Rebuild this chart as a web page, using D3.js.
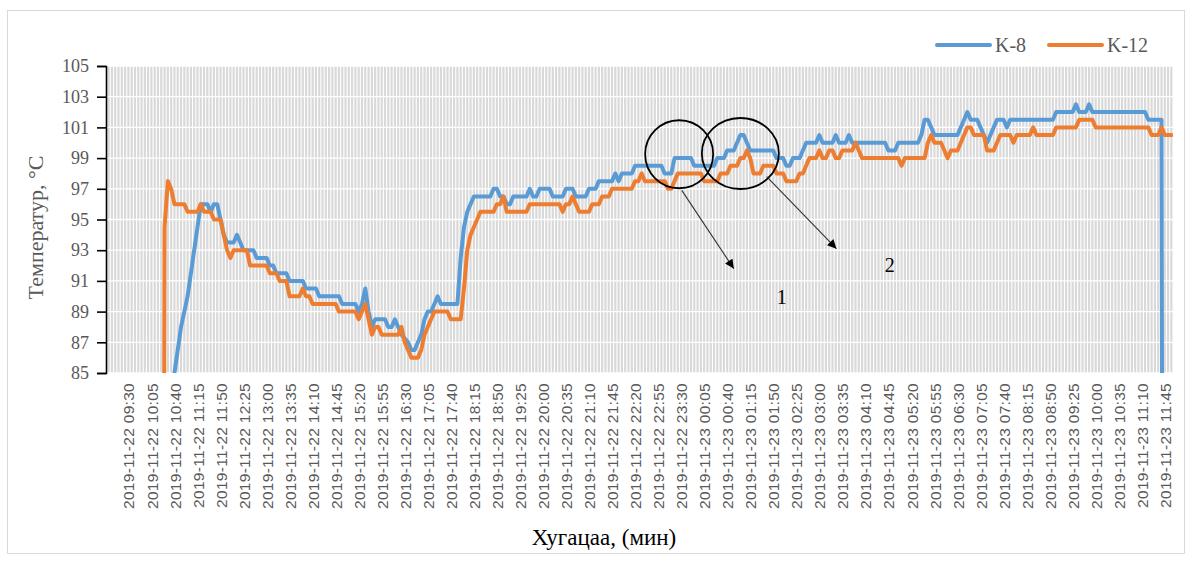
<!DOCTYPE html>
<html>
<head>
<meta charset="utf-8">
<script src="https://cdn.jsdelivr.net/npm/d3@7"></script>
<style>
  body { margin: 0; background: #ffffff; }
  svg { display: block; }
</style>
</head>
<body>
<svg id="chart" width="1192" height="563"></svg>
<script>
// ---------------- DATA ----------------
const seriesNames = ["K-8", "K-12"];

// K-8 readings (time, °C); values below 85 are off-scale (sensor not yet / no longer recording)
const k8 = [
  ["2019-11-22 10:35",0],["2019-11-22 10:40",85],["2019-11-22 10:45",86.5],["2019-11-22 10:50",88],["2019-11-22 10:55",89],
  ["2019-11-22 11:00",90],["2019-11-22 11:05",91.5],["2019-11-22 11:10",93],["2019-11-22 11:15",94.5],["2019-11-22 11:20",96],
  ["2019-11-22 11:30",96],["2019-11-22 11:35",95.5],["2019-11-22 11:40",96],["2019-11-22 11:45",96],["2019-11-22 11:50",95],
  ["2019-11-22 11:55",94],["2019-11-22 12:00",93.5],["2019-11-22 12:10",93.5],["2019-11-22 12:15",94],["2019-11-22 12:20",93.5],
  ["2019-11-22 12:25",93],["2019-11-22 12:40",93],["2019-11-22 12:45",92.5],["2019-11-22 13:00",92.5],["2019-11-22 13:05",92],
  ["2019-11-22 13:10",92],["2019-11-22 13:15",91.5],["2019-11-22 13:30",91.5],["2019-11-22 13:35",91],["2019-11-22 13:55",91],
  ["2019-11-22 14:00",90.5],["2019-11-22 14:15",90.5],["2019-11-22 14:20",90],["2019-11-22 14:50",90],["2019-11-22 14:55",89.5],
  ["2019-11-22 15:15",89.5],["2019-11-22 15:20",89],["2019-11-22 15:25",89.5],["2019-11-22 15:30",90.5],["2019-11-22 15:35",89],
  ["2019-11-22 15:40",88],["2019-11-22 15:45",88.5],["2019-11-22 16:00",88.5],["2019-11-22 16:05",88],["2019-11-22 16:10",88],
  ["2019-11-22 16:15",88.5],["2019-11-22 16:20",88],["2019-11-22 16:25",87.5],["2019-11-22 16:35",87],["2019-11-22 16:40",86.5],
  ["2019-11-22 16:45",86.5],["2019-11-22 16:50",87],["2019-11-22 16:55",87.5],["2019-11-22 17:00",88.5],["2019-11-22 17:05",89],
  ["2019-11-22 17:10",89],["2019-11-22 17:15",89.5],["2019-11-22 17:20",90],["2019-11-22 17:25",89.5],["2019-11-22 17:50",89.5],
  ["2019-11-22 17:55",92.5],["2019-11-22 18:00",94.5],["2019-11-22 18:05",95.5],["2019-11-22 18:10",96],["2019-11-22 18:15",96.5],
  ["2019-11-22 18:40",96.5],["2019-11-22 18:45",97],["2019-11-22 18:50",97],["2019-11-22 18:55",96.5],["2019-11-22 19:00",96.5],
  ["2019-11-22 19:05",96],["2019-11-22 19:10",96],["2019-11-22 19:15",96.5],["2019-11-22 19:35",96.5],["2019-11-22 19:40",97],
  ["2019-11-22 19:45",96.5],["2019-11-22 19:50",96.5],["2019-11-22 19:55",97],["2019-11-22 20:10",97],["2019-11-22 20:15",96.5],
  ["2019-11-22 20:30",96.5],["2019-11-22 20:35",97],["2019-11-22 20:45",97],["2019-11-22 20:50",96.5],["2019-11-22 21:05",96.5],
  ["2019-11-22 21:10",97],["2019-11-22 21:20",97],["2019-11-22 21:25",97.5],["2019-11-22 21:45",97.5],["2019-11-22 21:50",98],
  ["2019-11-22 21:55",97.5],["2019-11-22 22:00",98],["2019-11-22 22:15",98],["2019-11-22 22:20",98.5],["2019-11-22 23:00",98.5],
  ["2019-11-22 23:05",98],["2019-11-22 23:15",98],["2019-11-22 23:20",99],["2019-11-22 23:45",99],["2019-11-22 23:50",98.5],
  ["2019-11-23 00:20",98.5],["2019-11-23 00:25",99],["2019-11-23 00:35",99],["2019-11-23 00:40",99.5],["2019-11-23 00:50",99.5],
  ["2019-11-23 00:55",100],["2019-11-23 01:00",100.5],["2019-11-23 01:05",100.5],["2019-11-23 01:10",100],["2019-11-23 01:15",99.5],
  ["2019-11-23 01:50",99.5],["2019-11-23 01:55",99],["2019-11-23 02:05",99],["2019-11-23 02:10",98.5],["2019-11-23 02:15",98.5],
  ["2019-11-23 02:20",99],["2019-11-23 02:30",99],["2019-11-23 02:35",99.5],["2019-11-23 02:40",100],["2019-11-23 02:55",100],
  ["2019-11-23 03:00",100.5],["2019-11-23 03:05",100],["2019-11-23 03:20",100],["2019-11-23 03:25",100.5],["2019-11-23 03:30",100],
  ["2019-11-23 03:40",100],["2019-11-23 03:45",100.5],["2019-11-23 03:50",100],["2019-11-23 04:40",100],["2019-11-23 04:45",99.5],
  ["2019-11-23 04:55",99.5],["2019-11-23 05:00",100],["2019-11-23 05:30",100],["2019-11-23 05:35",100.5],["2019-11-23 05:40",101.5],
  ["2019-11-23 05:45",101.5],["2019-11-23 05:50",101],["2019-11-23 05:55",100.5],["2019-11-23 06:30",100.5],["2019-11-23 06:35",101],
  ["2019-11-23 06:40",101.5],["2019-11-23 06:45",102],["2019-11-23 06:50",101.5],["2019-11-23 07:00",101.5],["2019-11-23 07:05",101],
  ["2019-11-23 07:10",100.5],["2019-11-23 07:15",100],["2019-11-23 07:20",100.5],["2019-11-23 07:25",101],["2019-11-23 07:30",101.5],
  ["2019-11-23 07:40",101.5],["2019-11-23 07:45",101],["2019-11-23 07:50",101.5],["2019-11-23 08:55",101.5],["2019-11-23 09:00",102],
  ["2019-11-23 09:25",102],["2019-11-23 09:30",102.5],["2019-11-23 09:35",102],["2019-11-23 09:45",102],["2019-11-23 09:50",102.5],
  ["2019-11-23 09:55",102],["2019-11-23 11:15",102],["2019-11-23 11:20",101.5],["2019-11-23 11:40",101.5],["2019-11-23 11:45",0],
  ["2019-11-23 11:55",0]
];

// K-12 readings (time, °C)
const k12 = [
  ["2019-11-22 10:20",0],["2019-11-22 10:25",94.5],["2019-11-22 10:30",97.5],["2019-11-22 10:35",97],["2019-11-22 10:40",96],
  ["2019-11-22 10:55",96],["2019-11-22 11:00",95.5],["2019-11-22 11:15",95.5],["2019-11-22 11:20",96],["2019-11-22 11:25",95.5],
  ["2019-11-22 11:35",95.5],["2019-11-22 11:40",95],["2019-11-22 11:50",95],["2019-11-22 11:55",94],["2019-11-22 12:00",93],
  ["2019-11-22 12:05",92.5],["2019-11-22 12:10",93],["2019-11-22 12:30",93],["2019-11-22 12:35",92],["2019-11-22 13:00",92],
  ["2019-11-22 13:05",91.5],["2019-11-22 13:15",91.5],["2019-11-22 13:20",91],["2019-11-22 13:30",91],["2019-11-22 13:35",90],
  ["2019-11-22 13:50",90],["2019-11-22 13:55",90.5],["2019-11-22 14:00",90],["2019-11-22 14:05",90],["2019-11-22 14:10",89.5],
  ["2019-11-22 14:45",89.5],["2019-11-22 14:50",89],["2019-11-22 15:15",89],["2019-11-22 15:20",88.5],["2019-11-22 15:25",89],
  ["2019-11-22 15:30",89.5],["2019-11-22 15:35",88.5],["2019-11-22 15:40",87.5],["2019-11-22 15:45",88],["2019-11-22 15:50",88],
  ["2019-11-22 15:55",87.5],["2019-11-22 16:20",87.5],["2019-11-22 16:25",88],["2019-11-22 16:30",87],["2019-11-22 16:35",86.5],
  ["2019-11-22 16:40",86],["2019-11-22 16:50",86],["2019-11-22 16:55",86.5],["2019-11-22 17:00",87.5],["2019-11-22 17:05",88],
  ["2019-11-22 17:10",88.5],["2019-11-22 17:15",89],["2019-11-22 17:35",89],["2019-11-22 17:40",88.5],["2019-11-22 17:55",88.5],
  ["2019-11-22 18:00",90.5],["2019-11-22 18:05",93],["2019-11-22 18:10",94],["2019-11-22 18:15",94.5],["2019-11-22 18:20",95],
  ["2019-11-22 18:25",95.5],["2019-11-22 18:45",95.5],["2019-11-22 18:50",96],["2019-11-22 18:55",96],["2019-11-22 19:00",96.5],
  ["2019-11-22 19:05",95.5],["2019-11-22 19:35",95.5],["2019-11-22 19:40",96],["2019-11-22 20:25",96],["2019-11-22 20:30",95.5],
  ["2019-11-22 20:35",96],["2019-11-22 20:40",96],["2019-11-22 20:45",96.5],["2019-11-22 20:50",96],["2019-11-22 20:55",95.5],
  ["2019-11-22 21:10",95.5],["2019-11-22 21:15",96],["2019-11-22 21:25",96],["2019-11-22 21:30",96.5],["2019-11-22 21:40",96.5],
  ["2019-11-22 21:45",97],["2019-11-22 22:15",97],["2019-11-22 22:20",97.5],["2019-11-22 22:25",97.5],["2019-11-22 22:30",98],
  ["2019-11-22 22:35",97.5],["2019-11-22 23:05",97.5],["2019-11-22 23:10",97],["2019-11-22 23:15",97],["2019-11-22 23:20",97.5],
  ["2019-11-22 23:25",98],["2019-11-23 00:00",98],["2019-11-23 00:05",97.5],["2019-11-23 00:25",97.5],["2019-11-23 00:30",98],
  ["2019-11-23 00:40",98],["2019-11-23 00:45",98.5],["2019-11-23 00:55",98.5],["2019-11-23 01:00",99],["2019-11-23 01:05",99],
  ["2019-11-23 01:10",99.5],["2019-11-23 01:15",99],["2019-11-23 01:20",98],["2019-11-23 01:30",98],["2019-11-23 01:35",98.5],
  ["2019-11-23 01:50",98.5],["2019-11-23 01:55",98],["2019-11-23 02:05",98],["2019-11-23 02:10",97.5],["2019-11-23 02:25",97.5],
  ["2019-11-23 02:30",98],["2019-11-23 02:35",98],["2019-11-23 02:40",98.5],["2019-11-23 02:45",99],["2019-11-23 02:55",99],
  ["2019-11-23 03:00",99.5],["2019-11-23 03:05",99],["2019-11-23 03:10",99],["2019-11-23 03:15",99.5],["2019-11-23 03:20",99.5],
  ["2019-11-23 03:25",99],["2019-11-23 03:30",99],["2019-11-23 03:35",99.5],["2019-11-23 03:50",99.5],["2019-11-23 03:55",100],
  ["2019-11-23 04:00",99.5],["2019-11-23 04:05",99],["2019-11-23 05:00",99],["2019-11-23 05:05",98.5],["2019-11-23 05:10",99],
  ["2019-11-23 05:40",99],["2019-11-23 05:45",100],["2019-11-23 05:50",100.5],["2019-11-23 05:55",100],["2019-11-23 06:05",100],
  ["2019-11-23 06:10",99.5],["2019-11-23 06:15",99],["2019-11-23 06:20",99.5],["2019-11-23 06:30",99.5],["2019-11-23 06:35",100],
  ["2019-11-23 06:40",100.5],["2019-11-23 06:45",101],["2019-11-23 06:50",101],["2019-11-23 06:55",100.5],["2019-11-23 07:10",100.5],
  ["2019-11-23 07:15",99.5],["2019-11-23 07:25",99.5],["2019-11-23 07:30",100],["2019-11-23 07:35",100.5],["2019-11-23 07:50",100.5],
  ["2019-11-23 07:55",100],["2019-11-23 08:00",100.5],["2019-11-23 08:20",100.5],["2019-11-23 08:25",101],["2019-11-23 08:30",100.5],
  ["2019-11-23 08:55",100.5],["2019-11-23 09:00",101],["2019-11-23 09:30",101],["2019-11-23 09:35",101.5],["2019-11-23 09:55",101.5],
  ["2019-11-23 10:00",101],["2019-11-23 11:20",101],["2019-11-23 11:25",100.5],["2019-11-23 11:35",100.5],["2019-11-23 11:40",101],
  ["2019-11-23 11:45",100.5],["2019-11-23 11:55",100.5]
];

// Category axis: first and last 5-minute category of the sheet
const firstCategory = "2019-11-22 09:00";
const lastCategory  = "2019-11-23 11:55";
const categoryStepMin = 5;

const yTicks = [85, 87, 89, 91, 93, 95, 97, 99, 101, 103, 105];
const xTickLabels = [
  "2019-11-22 09:30","2019-11-22 10:05","2019-11-22 10:40","2019-11-22 11:15","2019-11-22 11:50",
  "2019-11-22 12:25","2019-11-22 13:00","2019-11-22 13:35","2019-11-22 14:10","2019-11-22 14:45",
  "2019-11-22 15:20","2019-11-22 15:55","2019-11-22 16:30","2019-11-22 17:05","2019-11-22 17:40",
  "2019-11-22 18:15","2019-11-22 18:50","2019-11-22 19:25","2019-11-22 20:00","2019-11-22 20:35",
  "2019-11-22 21:10","2019-11-22 21:45","2019-11-22 22:20","2019-11-22 22:55","2019-11-22 23:30",
  "2019-11-23 00:05","2019-11-23 00:40","2019-11-23 01:15","2019-11-23 01:50","2019-11-23 02:25",
  "2019-11-23 03:00","2019-11-23 03:35","2019-11-23 04:10","2019-11-23 04:45","2019-11-23 05:20",
  "2019-11-23 05:55","2019-11-23 06:30","2019-11-23 07:05","2019-11-23 07:40","2019-11-23 08:15",
  "2019-11-23 08:50","2019-11-23 09:25","2019-11-23 10:00","2019-11-23 10:35","2019-11-23 11:10",
  "2019-11-23 11:45"
];

const yTitle = "Температур,  °C";
const xTitle = "Хугацаа,  (мин)";

// Annotation marks (data coordinates)
const circleNotes = [
  { t: "2019-11-22 23:27", v: 99.25, rx: 34, ry: 34 },
  { t: "2019-11-23 01:00", v: 99.3, rx: 38.5, ry: 35.5 }
];
const arrowNotes = [
  { t0: "2019-11-22 23:31", v0: 96.9, t1: "2019-11-23 00:50", v1: 91.8 },
  { t0: "2019-11-23 01:40", v0: 97.8, t1: "2019-11-23 03:26", v1: 93.1 }
];
const textNotes = [
  { t: "2019-11-23 02:03", v: 89.95, label: "1" },
  { t: "2019-11-23 04:47", v: 92.05, label: "2" }
];

// ---------------- DRAW ----------------
const colors = { "K-8": "#5b9bd5", "K-12": "#ed7d31" };
const parse = d3.timeParse("%Y-%m-%d %H:%M");
const svg = d3.select("#chart");
const plot = { left: 107, right: 1173, top: 66, bottom: 373 };
const serif = "'Times New Roman','Liberation Serif',serif";
const sans = "'Liberation Sans',Arial,sans-serif";

// chart frame
svg.append("rect").attr("x", 7.5).attr("y", 10.5).attr("width", 1177).attr("height", 543)
  .attr("fill", "#fff").attr("stroke", "#d9d9d9").attr("stroke-width", 1);

const half = categoryStepMin / 2 * 60000;
const t0 = new Date(parse(firstCategory).getTime() - half);
const t1 = new Date(parse(lastCategory).getTime() + half);
const x = d3.scaleTime().domain([t0, t1]).range([plot.left, plot.right]);
const y = d3.scaleLinear().domain([85, 105]).range([plot.bottom, plot.top]);

// plot background
svg.append("rect").attr("x", plot.left).attr("y", plot.top)
  .attr("width", plot.right - plot.left).attr("height", plot.bottom - plot.top)
  .attr("fill", "#d9d9d9");

// vertical gridlines at category boundaries
const nCat = Math.round((t1 - t0) / (categoryStepMin * 60000));
const boundaries = d3.range(nCat + 1).map(i => new Date(t0.getTime() + i * categoryStepMin * 60000));
svg.append("g").selectAll("line").data(boundaries).join("line")
  .attr("x1", d => x(d)).attr("x2", d => x(d))
  .attr("y1", plot.top).attr("y2", plot.bottom)
  .attr("stroke", "#ffffff").attr("stroke-width", 1.1);

// horizontal gridlines
svg.append("g").selectAll("line").data(yTicks).join("line")
  .attr("x1", plot.left).attr("x2", plot.right)
  .attr("y1", d => y(d)).attr("y2", d => y(d))
  .attr("stroke", "#ffffff").attr("stroke-width", 1.3);

// clip
svg.append("clipPath").attr("id", "clip").append("rect")
  .attr("x", plot.left).attr("y", plot.top - 4)
  .attr("width", plot.right - plot.left).attr("height", plot.bottom - plot.top + 4);

const line = d3.line().x(d => x(parse(d[0]))).y(d => y(d[1]));
const seriesData = { "K-8": k8, "K-12": k12 };
const lg = svg.append("g").attr("clip-path", "url(#clip)");
seriesNames.forEach(name => {
  lg.append("path").datum(seriesData[name])
    .attr("d", line)
    .attr("fill", "none")
    .attr("stroke", colors[name])
    .attr("stroke-width", 4)
    .attr("stroke-linejoin", "round")
    .attr("stroke-linecap", "round");
});

// y axis
const yAxis = svg.append("g").attr("transform", `translate(${plot.left - 1},0)`)
  .call(d3.axisLeft(y).tickValues(yTicks).tickSize(9).tickPadding(8).tickFormat(d3.format("d")));
yAxis.select(".domain").attr("stroke", "#000").attr("stroke-width", 1.6);
yAxis.selectAll(".tick line").attr("stroke", "#000").attr("stroke-width", 1.6);
yAxis.selectAll("text").attr("fill", "#595959").style("font-family", serif).style("font-size", "18px");

// x axis labels
const xAxis = svg.append("g").attr("transform", `translate(0,${plot.bottom})`)
  .call(d3.axisBottom(x).tickValues(xTickLabels.map(parse)).tickSize(0)
    .tickFormat((d, i) => xTickLabels[i]));
xAxis.select(".domain").remove();
xAxis.selectAll("text")
  .attr("transform", "rotate(-90)")
  .attr("x", -10).attr("y", 0).attr("dy", "0.36em")
  .style("text-anchor", "end")
  .attr("fill", "#595959")
  .style("font-family", sans).style("font-size", "15.5px")
  .style("letter-spacing", "0.3px");

// axis titles
svg.append("text")
  .attr("transform", `translate(43,${(plot.top + plot.bottom) / 2 + 8}) rotate(-90)`)
  .attr("text-anchor", "middle")
  .attr("fill", "#595959")
  .style("font-family", serif).style("font-size", "22px")
  .text(yTitle);

svg.append("text")
  .attr("x", 604).attr("y", 545)
  .attr("text-anchor", "middle")
  .attr("fill", "#000")
  .style("font-family", serif).style("font-size", "23px")
  .text(xTitle);

// legend
const legendPos = { "K-8": 937, "K-12": 1049 };
seriesNames.forEach(name => {
  const g = svg.append("g").attr("transform", `translate(${legendPos[name]},45)`);
  g.append("line").attr("x1", 0).attr("x2", 53).attr("y1", 0).attr("y2", 0)
    .attr("stroke", colors[name]).attr("stroke-width", 4).attr("stroke-linecap", "round");
  g.append("text").attr("x", 58).attr("y", 7)
    .attr("fill", "#595959")
    .style("font-family", serif).style("font-size", "20px")
    .text(name);
});

// annotations
const defs = svg.append("defs");
defs.append("marker").attr("id", "arrowhead")
  .attr("viewBox", "0 0 10 10").attr("refX", 10).attr("refY", 5)
  .attr("markerWidth", 10).attr("markerHeight", 9)
  .attr("markerUnits", "userSpaceOnUse")
  .attr("orient", "auto")
  .append("path").attr("d", "M0,0 L10,5 L0,10 Z").attr("fill", "#000");

svg.append("g").selectAll("ellipse").data(circleNotes).join("ellipse")
  .attr("cx", d => x(parse(d.t))).attr("cy", d => y(d.v))
  .attr("rx", d => d.rx).attr("ry", d => d.ry)
  .attr("fill", "none").attr("stroke", "#000").attr("stroke-width", 1.8);

svg.append("g").selectAll("line").data(arrowNotes).join("line")
  .attr("x1", d => x(parse(d.t0))).attr("y1", d => y(d.v0))
  .attr("x2", d => x(parse(d.t1))).attr("y2", d => y(d.v1))
  .attr("stroke", "#333").attr("stroke-width", 1.1)
  .attr("marker-end", "url(#arrowhead)");

svg.append("g").selectAll("text").data(textNotes).join("text")
  .attr("x", d => x(parse(d.t))).attr("y", d => y(d.v))
  .attr("dy", "0.35em").attr("text-anchor", "middle")
  .attr("fill", "#000")
  .style("font-family", serif).style("font-size", "20px")
  .text(d => d.label);
</script>
</body>
</html>
